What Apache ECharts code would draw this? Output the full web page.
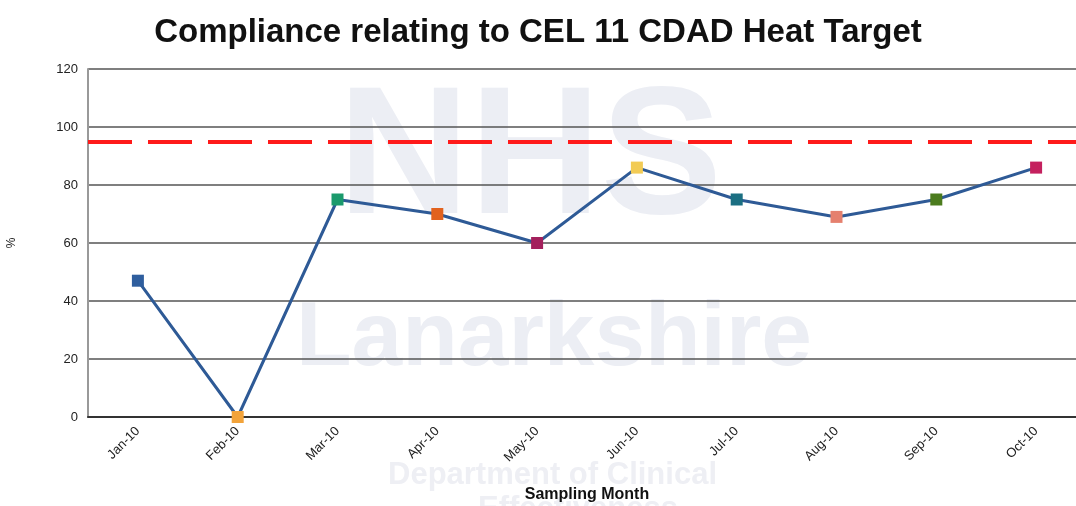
<!DOCTYPE html>
<html>
<head>
<meta charset="utf-8">
<script src="https://cdn.jsdelivr.net/npm/echarts@6/dist/echarts.min.js"></script>
<style>
html, body { margin: 0; padding: 0; background: #fff; }
#chart { width: 1076px; height: 506px; }
</style>
</head>
<body>
<div id="chart"></div>
<script>
var months = ['Jan-10', 'Feb-10', 'Mar-10', 'Apr-10', 'May-10', 'Jun-10', 'Jul-10', 'Aug-10', 'Sep-10', 'Oct-10'];
var compliance = [47, 0, 75, 70, 60, 86, 75, 69, 75, 86];
var markerColors = ['#2f5e9e', '#f2a33a', '#1b9a6c', '#e2621e', '#a3205c', '#f2cb55', '#1b6f82', '#e5806e', '#4c7c1e', '#c4205e'];
var target = 95;

window.onload = function() {
	var myChart = echarts.init(document.getElementById('chart'));
	var points = [];
	for (var i = 0; i < compliance.length; i++) {
		points.push({ value: compliance[i], itemStyle: { color: markerColors[i] } });
	}
	var option = {
		backgroundColor: '#fff',
		animation: false,
		title: {
			text: 'Compliance relating to CEL 11 CDAD Heat Target',
			left: 'center',
			top: 11,
			textStyle: { fontFamily: 'Liberation Sans', fontSize: 33, fontWeight: 'bold', color: '#111' }
		},
		graphic: [
			{ type: 'text', left: 338, top: 72, z: -1, style: { text: 'NHS', font: 'bold 182px Liberation Sans', fill: '#eceef4' } },
			{ type: 'text', left: 296, top: 294, z: -1, style: { text: 'Lanarkshire', font: 'bold 91px Liberation Sans', fill: '#eceef4' } },
			{ type: 'text', left: 388, top: 460, z: -1, style: { text: 'Department of Clinical', font: 'bold 31px Liberation Sans', fill: '#eeeff4' } },
			{ type: 'text', left: 478, top: 494, z: -1, style: { text: 'Effectiveness', font: 'bold 31px Liberation Sans', fill: '#eeeff4' } }
		],
		grid: { left: 88, top: 69, width: 998, height: 348, outerBoundsMode: 'none' },
		xAxis: {
			type: 'category',
			data: months,
			boundaryGap: true,
			name: 'Sampling Month',
			nameLocation: 'middle',
			nameGap: 70,
			nameTextStyle: { fontFamily: 'Liberation Sans', fontSize: 16, fontWeight: 'bold', color: '#111' },
			axisLine: { lineStyle: { color: '#333', width: 2 } },
			axisTick: { show: false },
			axisLabel: { rotate: 45, fontFamily: 'Liberation Sans', fontSize: 13, color: '#222', margin: 12 }
		},
		yAxis: {
			type: 'value',
			min: 0,
			max: 120,
			interval: 20,
			name: '%',
			nameLocation: 'middle',
			nameGap: 70,
			nameTextStyle: { fontFamily: 'Liberation Sans', fontSize: 12, color: '#222' },
			axisLine: { show: true, lineStyle: { color: '#999', width: 2 } },
			axisTick: { show: false },
			axisLabel: { fontFamily: 'Liberation Sans', fontSize: 13, color: '#222', margin: 10 },
			splitLine: { lineStyle: { color: '#555', width: 1.5 } }
		},
		series: [{
			type: 'line',
			data: points,
			symbol: 'rect',
			symbolSize: 12,
			lineStyle: { color: '#2e5a96', width: 3 },
			z: 3,
			markLine: {
				silent: true,
				symbol: 'none',
				label: { show: false },
				lineStyle: { color: '#ff1a1a', width: 4, type: [44, 16] },
				data: [{ yAxis: target }]
			}
		}]
	};
	myChart.setOption(option);
};
</script>
</body>
</html>
